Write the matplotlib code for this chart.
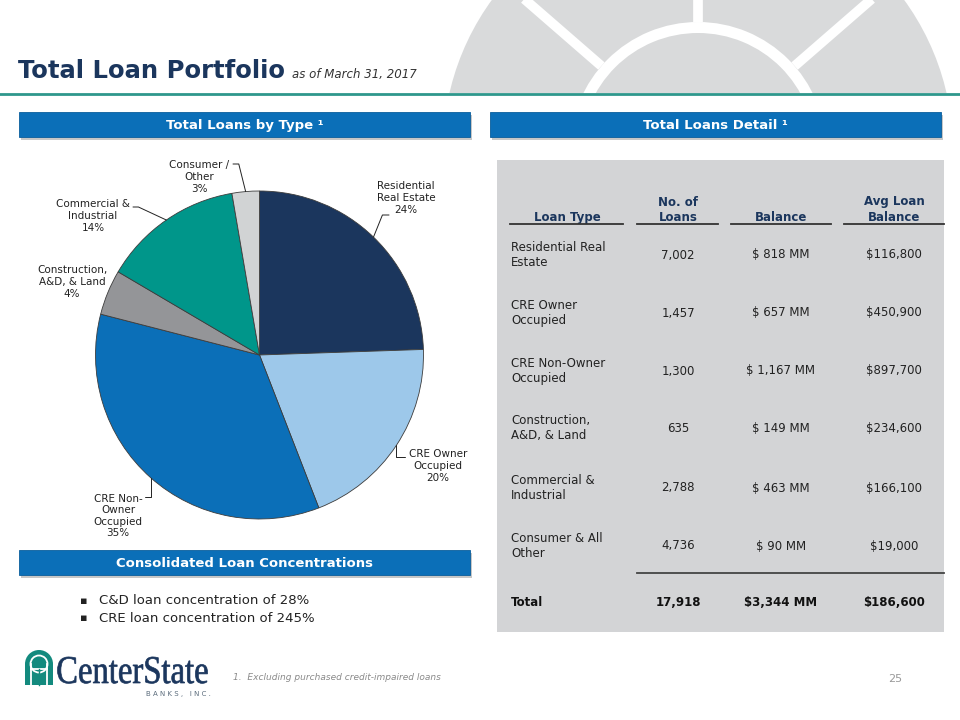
import numpy as np
import matplotlib
matplotlib.use("Agg")
import matplotlib.pyplot as plt
from matplotlib.patches import Rectangle, Circle, Wedge, PathPatch
from matplotlib.textpath import TextPath
from matplotlib.font_manager import FontProperties
from matplotlib.transforms import Affine2D

plt.rcParams["font.family"] = ["DejaVu Sans"]

# --- data ---
loan_types = ["Residential Real\nEstate", "CRE Owner\nOccupied", "CRE Non-Owner\nOccupied",
              "Construction,\nA&D, & Land", "Commercial &\nIndustrial", "Consumer & All\nOther"]
pie_labels = ["Residential\nReal Estate", "CRE Owner\nOccupied", "CRE Non-\nOwner\nOccupied",
              "Construction,\nA&D, & Land", "Commercial &\nIndustrial", "Consumer /\nOther"]
num_loans = [7002, 1457, 1300, 635, 2788, 4736]
balance_mm = [818, 657, 1167, 149, 463, 90]
avg_balance = [116800, 450900, 897700, 234600, 166100, 19000]
total_loans = 17918
total_balance = 3344
total_avg = 186600
pie_colors = ["#1B365D", "#9DC8EA", "#0B6FB8", "#949598", "#00968A", "#D1D3D4"]
bullets = ["C&D loan concentration of 28%", "CRE loan concentration of 245%"]

NAVY = "#1B365D"
BLUE = "#0B6FB8"

fig = plt.figure(figsize=(9.6, 7.2), dpi=100)
bg = fig.add_axes([0, 0, 1, 1])
bg.set_xlim(0, 960)
bg.set_ylim(720, 0)
bg.axis("off")

# decorative fanlight in the top right corner
cx, cy = 698, 150
bg.add_patch(Circle((cx, cy), 255, fc="#D9DADB", ec="none", zorder=0))
bg.add_patch(Wedge((cx, cy), 128, 0, 360, width=11, fc="white", ec="none", zorder=0.1))
for ang in [41, 90, 139]:
    a = np.radians(ang)
    bg.plot([cx + 128 * np.cos(a), cx + 270 * np.cos(a)],
            [cy - 128 * np.sin(a), cy - 270 * np.sin(a)],
            color="white", lw=7, solid_capstyle="butt", zorder=0.1)
bg.add_patch(Rectangle((0, 93), 960, 640, fc="white", ec="none", zorder=0.2))
bg.plot([0, 960], [94, 94], color="#2E978C", lw=2, zorder=0.3)

# title
bg.text(18, 78, "Total Loan Portfolio", fontsize=17.5, fontweight="bold", color=NAVY, va="baseline")
bg.text(292, 78, "as of March 31, 2017", fontsize=8.5, style="italic", color="#333333", va="baseline")


def header_bar(x0, x1, y0, y1, label):
    bg.add_patch(Rectangle((x0 + 2, y0 + 3), x1 - x0, y1 - y0, fc="#9A9A9A", ec="none", alpha=0.55, zorder=1))
    bg.add_patch(Rectangle((x0, y0), x1 - x0, y1 - y0, fc=BLUE, ec="#0A5E9C", lw=0.6, zorder=2))
    bg.text((x0 + x1) / 2, (y0 + y1) / 2 + 1, label, color="white", fontsize=9.5,
            fontweight="bold", ha="center", va="center", zorder=3)


header_bar(19, 470, 112, 137, "Total Loans by Type \u00b9")
header_bar(490, 941, 112, 137, "Total Loans Detail \u00b9")
header_bar(19, 470, 550, 575, "Consolidated Loan Concentrations")

# pie
R_PX, PCX, PCY = 164, 259.5, 355
pie_ax = fig.add_axes([(PCX - R_PX) / 960, 1 - (PCY + R_PX) / 720, 2 * R_PX / 960, 2 * R_PX / 720])
wedges, _ = pie_ax.pie(balance_mm, colors=pie_colors, startangle=90, counterclock=False,
                       wedgeprops=dict(edgecolor="#3C3C3C", linewidth=0.6))
pie_ax.set_xlim(-1, 1)
pie_ax.set_ylim(-1, 1)
pie_ax.axis("off")

pct = [round(100 * b / total_balance) for b in balance_mm]
label_pos = [(406, 198), (438, 466), (118, 516), (72, 282), (93, 216), (199, 177)]
# leader start (pixel) and angle of the segment that meets the pie; None = no leader
leaders = [((389, 215), 68), ((405, 457), 90), ((145, 497), 90), None, ((133, 207), 155), ((233, 164), 104)]

for w, lab, p, pos, ld in zip(wedges, pie_labels, pct, label_pos, leaders):
    bg.text(pos[0], pos[1], f"{lab}\n{p}%", fontsize=7.5, color="#222222", ha="center",
            va="center", multialignment="center", linespacing=1.2, zorder=5)
    if ld is None:
        continue
    mid = np.radians((w.theta1 + w.theta2) / 2)
    pie_ax.annotate("", xy=(np.cos(mid), np.sin(mid)), xycoords="data",
                    xytext=ld[0], textcoords=bg.transData,
                    arrowprops=dict(arrowstyle="-", color="#222222", lw=0.7, shrinkA=0, shrinkB=0,
                                    connectionstyle=f"angle,angleA=0,angleB={ld[1]},rad=0"))

# bullets
for i, b in enumerate(bullets):
    y = 601 + 17 * i
    bg.text(84, y, "\u25aa", fontsize=8, color="#222222", ha="center", va="center")
    bg.text(99, y, b, fontsize=9.5, color="#222222", va="center")

# detail table
bg.add_patch(Rectangle((497, 160), 447, 472, fc="#D3D4D6", ec="none", zorder=1))
col_x = [511, 678, 781, 894]
heads = ["Loan Type", "No. of\nLoans", "Balance", "Avg Loan\nBalance"]
line_spans = [(510, 623), (637, 718), (731, 831), (844, 944)]
head_cx = [567, 678, 781, 894]
for h, hx, (l0, l1) in zip(heads, head_cx, line_spans):
    bg.text(hx, 221, h, fontsize=8.5, fontweight="bold", color=NAVY, ha="center", va="baseline",
            multialignment="center", linespacing=1.25, zorder=3)
    bg.plot([l0, l1], [224, 224], color="#333333", lw=1.3, zorder=3)

row_y = [255, 313, 371, 428, 488, 546]
for y, lt, n, b, a in zip(row_y, loan_types, num_loans, balance_mm, avg_balance):
    bg.text(col_x[0], y, lt, fontsize=8.5, color="#222222", va="center", linespacing=1.15, zorder=3)
    bg.text(col_x[1], y, f"{n:,}", fontsize=8.5, color="#222222", ha="center", va="center", zorder=3)
    bg.text(col_x[2], y, f"$ {b:,} MM", fontsize=8.5, color="#222222", ha="center", va="center", zorder=3)
    bg.text(col_x[3], y, f"${a:,}", fontsize=8.5, color="#222222", ha="center", va="center", zorder=3)

bg.plot([637, 944], [573, 573], color="#444444", lw=1.3, zorder=3)
ty = 603
bg.text(col_x[0], ty, "Total", fontsize=8.5, fontweight="bold", color="#111111", va="center", zorder=3)
bg.text(col_x[1], ty, f"{total_loans:,}", fontsize=8.5, fontweight="bold", color="#111111", ha="center", va="center", zorder=3)
bg.text(col_x[2], ty, f"${total_balance:,} MM", fontsize=8.5, fontweight="bold", color="#111111", ha="center", va="center", zorder=3)
bg.text(col_x[3], ty, f"${total_avg:,}", fontsize=8.5, fontweight="bold", color="#111111", ha="center", va="center", zorder=3)

# logo
TEAL = "#138A7E"
bg.add_patch(Rectangle((25, 664), 28, 21, fc=TEAL, ec="none", zorder=3))
bg.add_patch(Circle((39, 664), 14, fc=TEAL, ec="none", zorder=3))
bg.add_patch(Circle((39, 664), 8.5, fc="none", ec="white", lw=1.3, zorder=4))
for xx in [31, 47]:
    bg.plot([xx, xx], [664, 685], color="white", lw=1.3, zorder=4)
bg.plot([31, 47], [669, 669], color="white", lw=1.3, zorder=4)
bg.plot([39, 39], [669, 685], color=TEAL, lw=1, zorder=4)

tp = TextPath((0, 0), "CenterState", size=1, prop=FontProperties(family="Liberation Serif"))
ext = tp.get_extents()
sx = 150 / ext.width
sy = 26 / 0.66
logo_path = Affine2D().scale(sx, -sy).translate(57.5 - ext.x0 * sx, 683).transform_path(tp)
bg.add_patch(PathPatch(logo_path, fc=NAVY, ec=NAVY, lw=0.5, zorder=4))
bg.text(178, 694, "B A N K S ,   I N C .", fontsize=5, color="#5A6B7B", ha="center", va="center")

# footnote and page number
bg.text(233, 678, "1.  Excluding purchased credit-impaired loans", fontsize=6.5, style="italic",
        color="#8A8A8A", va="center")
bg.text(895, 679, "25", fontsize=8, color="#999999", ha="center", va="center")

fig.savefig("out.png", dpi=100)
